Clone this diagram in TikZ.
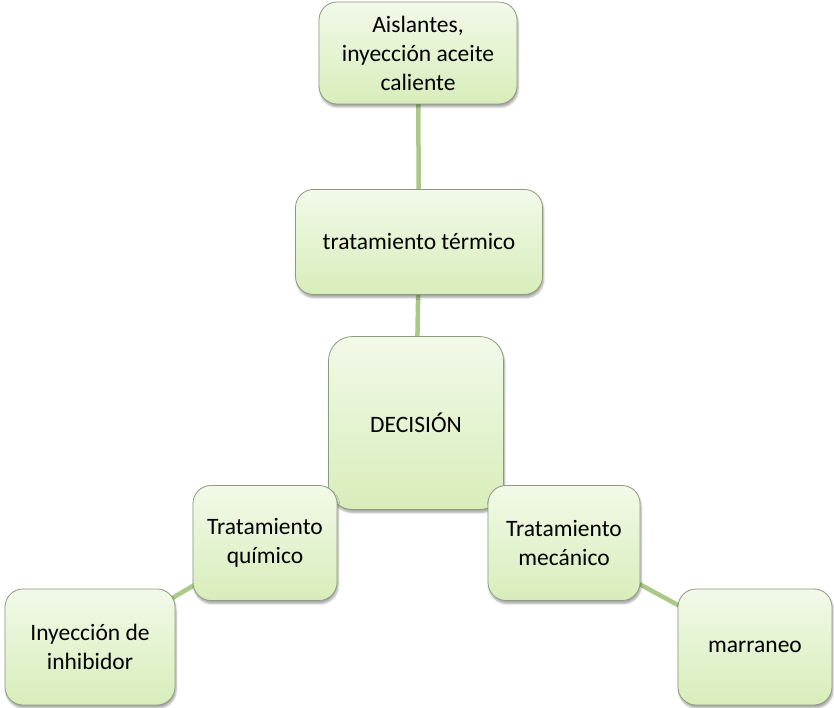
\documentclass[tikz,border=0pt]{standalone}
\usepackage{fontspec}
\setmainfont{Carlito}
\usetikzlibrary{shadows.blur}
\definecolor{boxtop}{HTML}{F2F9E9}
\definecolor{boxbot}{HTML}{D8EDBA}
\definecolor{boxline}{HTML}{8C9A80}
\definecolor{conn}{HTML}{ABC986}
\tikzset{
  box/.style={draw=boxline, line width=0.8pt, rounded corners=18pt, top color=boxtop, bottom color=boxbot,
    blur shadow={shadow xshift=1pt, shadow yshift=-3pt, shadow blur steps=6, shadow opacity=35},
    align=center, font=\fontsize{23.5}{29}\selectfont, inner sep=0pt},
  link/.style={draw=conn, line width=4.5pt}
}
\begin{document}
\begin{tikzpicture}[x=1pt,y=-1pt]
\useasboundingbox (0,0) rectangle (834,708);
% connectors first (behind boxes)
\coordinate (cA) at (418,53);
\coordinate (cB) at (419,242);
\coordinate (cC) at (416,423);
\coordinate (cD) at (265,543);
\coordinate (cE) at (564,543);
\coordinate (cF) at (90,647);
\coordinate (cG) at (755,647);
\draw[link] (cA) -- (cB);
\draw[link] (cB) -- (cC);
\draw[link] (cC) -- (cD);
\draw[link] (cC) -- (cE);
\draw[link] (cD) -- (cF);
\draw[link] (cE) -- (cG);
% boxes
\node[box, minimum width=198pt, minimum height=102pt] (top) at (cA) {Aislantes,\\inyección aceite\\caliente};
\node[box, minimum width=247pt, minimum height=105pt] (term) at (cB) {tratamiento térmico};
\node[box, rounded corners=24pt, minimum width=175pt, minimum height=173pt] (dec) at (cC) {DECISIÓN};
\node[box, minimum width=144pt, minimum height=115pt] (quim) at (cD) {Tratamiento\\químico};
\node[box, minimum width=152pt, minimum height=115pt] (mec) at (cE) {Tratamiento\\mecánico};
\node[box, minimum width=170pt, minimum height=116pt] (inh) at (cF) {Inyección de\\inhibidor};
\node[box, minimum width=154pt, minimum height=116pt] (mar) at (cG) {marraneo};
\end{tikzpicture}
\end{document}
